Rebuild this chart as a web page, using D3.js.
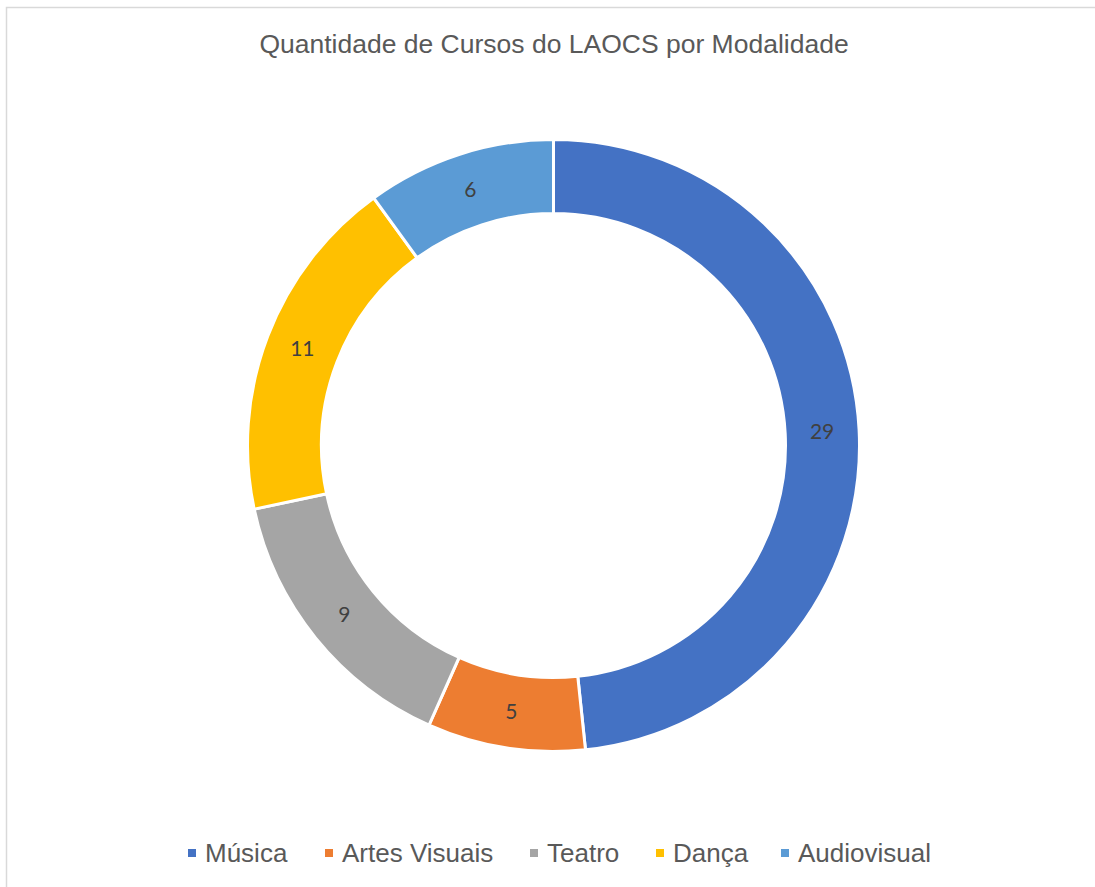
<!DOCTYPE html>
<html>
<head>
<meta charset="utf-8">
<script src="https://cdn.jsdelivr.net/npm/d3@7"></script>
<style>
  body { margin: 0; background: #fff; }
  svg { display: block; }
</style>
</head>
<body>
<svg width="1095" height="887"></svg>
<script>
// **** Data ****
var categories = ["Música", "Artes Visuais", "Teatro", "Dança", "Audiovisual"];
var values = [29, 5, 9, 11, 6];
var colors = ["#4472C4", "#ED7D31", "#A5A5A5", "#FFC000", "#5B9BD5"];

var titleText = "Quantidade de Cursos do LAOCS por Modalidade";

var svg = d3.select("svg");

// chart border (right/bottom edges fall outside the picture)
svg.append("rect")
    .attr("x", 6.5).attr("y", 7.5)
    .attr("width", 1200).attr("height", 1000)
    .attr("fill", "#fff")
    .attr("stroke", "#d9d9d9")
    .attr("stroke-width", 1.5);

svg.append("text")
    .attr("x", 554).attr("y", 53)
    .attr("text-anchor", "middle")
    .attr("font-family", "Liberation Sans, Arial, sans-serif")
    .attr("font-size", "26.5px")
    .attr("fill", "#595959")
    .text(titleText);

// **** Donut ****
var cx = 553.5, cy = 445.5;
var outerR = 306, innerR = 232;

var pie = d3.pie().sort(null).value(function (d) { return d; });
var arc = d3.arc().innerRadius(innerR).outerRadius(outerR);
var labelArc = d3.arc().innerRadius((innerR + outerR) / 2).outerRadius((innerR + outerR) / 2);

var g = svg.append("g").attr("transform", "translate(" + cx + "," + cy + ")");
var slices = pie(values);

g.selectAll("path")
    .data(slices)
    .enter().append("path")
    .attr("d", arc)
    .attr("fill", function (d, i) { return colors[i]; })
    .attr("stroke", "#fff")
    .attr("stroke-width", 3);

g.selectAll("text.label")
    .data(slices)
    .enter().append("text")
    .attr("class", "label")
    .attr("transform", function (d) { return "translate(" + labelArc.centroid(d) + ")"; })
    .attr("text-anchor", "middle")
    .attr("dy", "0.35em")
    .attr("font-family", "Lato, Open Sans, sans-serif")
    .attr("font-size", "21px")
    .attr("fill", "#404040")
    .text(function (d) { return d.data; });

// **** Legend ****
var legendX = [188, 325, 530, 656, 781];
var legend = svg.append("g");
categories.forEach(function (c, i) {
    legend.append("rect")
        .attr("x", legendX[i]).attr("y", 849)
        .attr("width", 8).attr("height", 8)
        .attr("fill", colors[i]);
    legend.append("text")
        .attr("x", legendX[i] + 17).attr("y", 862)
        .attr("font-family", "Liberation Sans, Arial, sans-serif")
        .attr("font-size", "26px")
        .attr("fill", "#595959")
        .text(c);
});
</script>
</body>
</html>
